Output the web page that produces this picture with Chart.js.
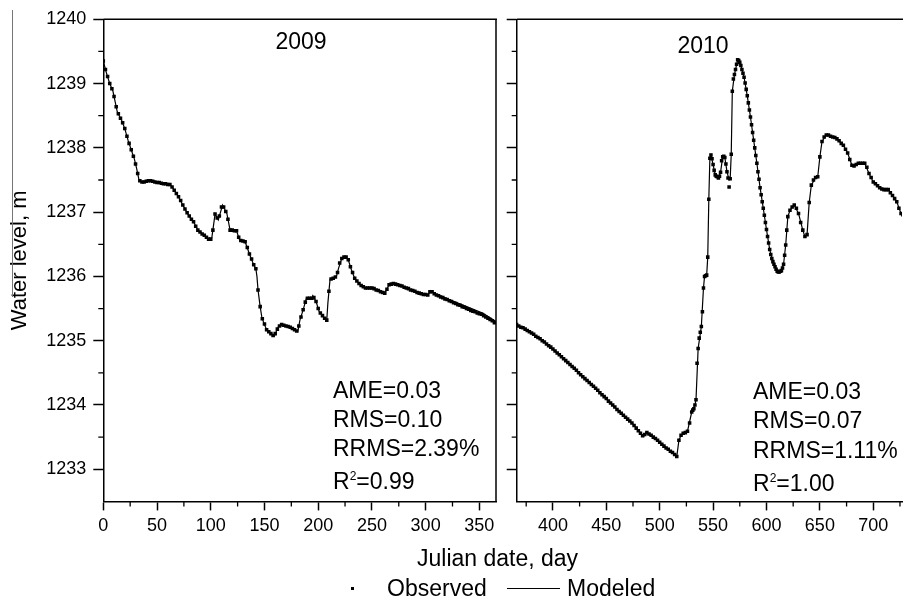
<!DOCTYPE html>
<html><head><meta charset="utf-8">
<script src="https://cdn.jsdelivr.net/npm/chart.js@4/dist/chart.umd.min.js"></script>
<style>
html,body{margin:0;padding:0;background:#fff;overflow:hidden;width:906px;height:602px;}
body{position:relative;font-family:"Liberation Sans",Arial,sans-serif;color:#000;}
.abs{position:absolute;white-space:nowrap;}
.t23{font-size:23px;line-height:23px;}
sup{font-size:12px;vertical-align:9px;line-height:0;}
</style></head><body>
<canvas id="c1" width="500" height="602" style="position:absolute;left:0;top:0"></canvas>
<canvas id="c2" width="406" height="602" style="position:absolute;left:500px;top:0"></canvas>
<div class="abs" style="left:12px;top:10px;width:0;height:287px;border-left:1px solid #777"></div>
<div class="abs t23" style="left:301px;top:30px;transform:translateX(-50%)">2009</div>
<div class="abs t23" style="left:703px;top:34px;transform:translateX(-50%)">2010</div>
<div class="abs t23" style="left:333px;top:379px">AME=0.03</div>
<div class="abs t23" style="left:333px;top:408px">RMS=0.10</div>
<div class="abs t23" style="left:333px;top:437px">RRMS=2.39%</div>
<div class="abs t23" style="left:333px;top:470px">R<sup>2</sup>=0.99</div>
<div class="abs t23" style="left:753px;top:380px">AME=0.03</div>
<div class="abs t23" style="left:753px;top:409px">RMS=0.07</div>
<div class="abs t23" style="left:753px;top:439px">RRMS=1.11%</div>
<div class="abs t23" style="left:753px;top:472px">R<sup>2</sup>=1.00</div>
<div class="abs t23" style="left:417px;top:547px">Julian date, day</div>
<div class="abs" style="left:351px;top:587px;width:3px;height:3px;background:#000"></div>
<div class="abs t23" style="left:387px;top:577px">Observed</div>
<div class="abs" style="left:507px;top:588px;width:53px;height:0;border-top:1px solid #000"></div>
<div class="abs t23" style="left:567px;top:577px">Modeled</div>
<script>
// ---------- data ----------
const yTicks = [1233,1234,1235,1236,1237,1238,1239,1240];
const yMinorTicks = [1233.5,1234.5,1235.5,1236.5,1237.5,1238.5,1239.5];
const xTicks2009 = [0,50,100,150,200,250,300,350];
const xMinor2009 = [25,75,125,175,225,275,325];
const xTicks2010 = [400,450,500,550,600,650,700];
const xMinor2010 = [375,425,475,525,575,625,675,725];

const obs2009Days = [0,2,4,6,8,10,12,14,16,18,20,22,24,26,28,30,32,34,36,38,40,42,44,46,48,50,52,54,56,58,60,62,64,66,68,70,72,74,76,78,80,82,84,86,88,90,92,94,96,98,100,102,104,106,108,110,112,114,116,118,120,122,124,126,128,130,132,134,136,138,140,142,144,146,148,150,152,154,156,158,160,162,164,166,168,170,172,174,176,178,180,182,184,186,188,190,192,194,196,198,200,202,204,206,208,210,212,214,216,218,220,222,224,226,228,230,232,234,236,238,240,242,244,246,248,250,252,254,256,258,260,262,264,266,268,270,272,274,276,278,280,282,284,286,288,290,292,294,296,298,300,302,304,306,308,310,312,314,316,318,320,322,324,326,328,330,332,334,336,338,340,342,344,346,348,350,352,354,356,358,360,362,364];
const obs2009Level = [1239.35,1239.22,1239.11,1239.00,1238.92,1238.80,1238.64,1238.53,1238.46,1238.39,1238.30,1238.18,1238.07,1237.97,1237.87,1237.75,1237.60,1237.49,1237.47,1237.47,1237.48,1237.49,1237.49,1237.48,1237.47,1237.46,1237.46,1237.45,1237.44,1237.44,1237.43,1237.43,1237.39,1237.34,1237.29,1237.24,1237.18,1237.11,1237.05,1236.99,1236.94,1236.89,1236.85,1236.78,1236.72,1236.69,1236.66,1236.64,1236.61,1236.58,1236.58,1236.72,1236.97,1236.91,1236.94,1237.08,1237.08,1237.01,1236.89,1236.72,1236.72,1236.71,1236.71,1236.61,1236.56,1236.55,1236.54,1236.45,1236.35,1236.27,1236.18,1236.12,1235.79,1235.53,1235.34,1235.26,1235.17,1235.14,1235.11,1235.08,1235.11,1235.18,1235.23,1235.25,1235.24,1235.23,1235.22,1235.21,1235.19,1235.17,1235.15,1235.23,1235.37,1235.48,1235.60,1235.66,1235.66,1235.66,1235.67,1235.61,1235.50,1235.43,1235.39,1235.35,1235.32,1235.77,1235.96,1235.97,1235.99,1236.06,1236.21,1236.28,1236.30,1236.30,1236.26,1236.15,1236.06,1235.97,1235.93,1235.89,1235.86,1235.84,1235.82,1235.82,1235.82,1235.82,1235.81,1235.79,1235.78,1235.76,1235.75,1235.74,1235.80,1235.87,1235.88,1235.89,1235.88,1235.87,1235.86,1235.85,1235.83,1235.82,1235.81,1235.79,1235.78,1235.77,1235.75,1235.74,1235.73,1235.72,1235.72,1235.71,1235.76,1235.76,1235.73,1235.71,1235.70,1235.68,1235.67,1235.65,1235.64,1235.62,1235.61,1235.59,1235.58,1235.56,1235.55,1235.53,1235.52,1235.50,1235.49,1235.47,1235.46,1235.45,1235.43,1235.42,1235.41,1235.39,1235.37,1235.35,1235.33,1235.31,1235.28];

const mod2009Days = [0,3,6,9,11,13,17,20,23,26,29,31,33,35,43,51,57,62,65,70,74,79,84,88,93,99,101,104,107,111,115,118,124,127,132,136,140,142,143,144,146,147.5,149.5,152,155,159,163,166,173,177,181,183,186,189,194,195,198,201,205,208,209,211,214,217,219,222,225,228,231,234,239,244,250,257,262,266,271,282,294,302,305,310,325,341,353,365.5];
const mod2009Level = [1239.35,1239.16,1239.00,1238.88,1238.72,1238.56,1238.43,1238.30,1238.12,1237.97,1237.82,1237.68,1237.52,1237.47,1237.49,1237.46,1237.44,1237.43,1237.37,1237.24,1237.11,1236.96,1236.85,1236.72,1236.65,1236.57,1236.60,1236.97,1236.88,1237.11,1236.98,1236.72,1236.71,1236.56,1236.54,1236.35,1236.18,1236.12,1236.00,1235.79,1235.53,1235.37,1235.27,1235.17,1235.12,1235.07,1235.22,1235.25,1235.22,1235.18,1235.14,1235.32,1235.48,1235.66,1235.66,1235.70,1235.61,1235.45,1235.37,1235.32,1235.58,1235.95,1235.97,1236.00,1236.13,1236.28,1236.31,1236.26,1236.10,1235.97,1235.87,1235.82,1235.82,1235.77,1235.74,1235.87,1235.89,1235.82,1235.74,1235.71,1235.78,1235.72,1235.62,1235.51,1235.43,1235.30];

const obs2010Days = [366,368,370,372,374,376,378,380,382,384,386,388,390,392,394,396,398,400,402,404,406,408,410,412,414,416,418,420,422,424,426,428,430,432,434,436,438,440,442,444,446,448,450,452,454,456,458,460,462,464,466,468,470,472,474,476,478,480,482,484,486,488,490,492,494,496,498,500,502,504,506,508,510,512,514,516,518,520,522,524,526,528,530,531,532,533,534,535,536,537,538,539,540,541,542,543,544,545,546,547,548,549,550,551,552,553,554,555,556,557,558,559,560,561,562,563,564,565,566,567,568,569,570,571,572,573,574,575,576,577,578,579,580,581,582,583,584,585,586,587,588,589,590,591,592,593,594,595,596,597,598,599,600,601,602,603,604,605,606,607,608,609,610,611,612,613,614,615,616,617,618,619,620,622,624,626,628,630,632,634,636,638,640,642,644,646,648,650,652,654,656,658,660,662,664,666,668,670,672,674,676,678,680,682,684,686,688,690,692,694,696,698,700,702,704,706,708,710,712,714,716,718,720,722,724,726];
const obs2010Level = [1235.25,1235.23,1235.21,1235.20,1235.18,1235.16,1235.14,1235.12,1235.10,1235.07,1235.05,1235.03,1235.00,1234.98,1234.95,1234.92,1234.90,1234.87,1234.84,1234.81,1234.78,1234.75,1234.72,1234.69,1234.66,1234.63,1234.60,1234.57,1234.54,1234.50,1234.47,1234.44,1234.41,1234.38,1234.35,1234.32,1234.29,1234.26,1234.23,1234.19,1234.16,1234.13,1234.10,1234.06,1234.03,1234.00,1233.97,1233.93,1233.90,1233.87,1233.84,1233.81,1233.78,1233.75,1233.72,1233.68,1233.64,1233.60,1233.56,1233.52,1233.54,1233.57,1233.55,1233.53,1233.50,1233.48,1233.45,1233.42,1233.39,1233.36,1233.33,1233.31,1233.28,1233.26,1233.23,1233.20,1233.45,1233.53,1233.56,1233.57,1233.59,1233.72,1233.89,1233.92,1233.94,1234.00,1234.08,1234.65,1234.88,1235.04,1235.13,1235.22,1235.45,1235.82,1236.00,1236.01,1236.02,1236.30,1237.20,1237.84,1237.89,1237.83,1237.74,1237.65,1237.58,1237.56,1237.55,1237.53,1237.56,1237.62,1237.80,1237.86,1237.87,1237.85,1237.75,1237.63,1237.53,1237.39,1237.52,1237.90,1238.88,1239.07,1239.14,1239.22,1239.30,1239.37,1239.36,1239.33,1239.28,1239.22,1239.16,1239.10,1239.01,1238.91,1238.81,1238.70,1238.59,1238.48,1238.36,1238.24,1238.12,1238.00,1237.88,1237.76,1237.63,1237.51,1237.38,1237.27,1237.16,1237.06,1236.95,1236.84,1236.73,1236.62,1236.52,1236.42,1236.34,1236.28,1236.23,1236.19,1236.15,1236.11,1236.08,1236.07,1236.07,1236.08,1236.09,1236.13,1236.19,1236.33,1236.49,1236.72,1236.93,1237.03,1237.08,1237.11,1237.06,1236.98,1236.84,1236.72,1236.62,1236.65,1237.15,1237.42,1237.50,1237.54,1237.55,1237.86,1238.10,1238.17,1238.20,1238.20,1238.18,1238.17,1238.16,1238.14,1238.11,1238.07,1238.04,1237.98,1237.92,1237.82,1237.73,1237.72,1237.74,1237.76,1237.76,1237.76,1237.76,1237.70,1237.60,1237.54,1237.47,1237.44,1237.41,1237.38,1237.36,1237.35,1237.35,1237.35,1237.30,1237.26,1237.21,1237.16,1237.06,1236.98];

const mod2010Days = [366,375,391,406,425,443,459,474,485,487,496,505,513,516,518,520,526,530,533,534,536,539,541,542,544,545,546,547,548,550,552,555,557,559,561,563,565,566,567,568,570,573,576,579,582,585,588,591,594,597,600,603,606,609,612,614,616,618,620,622,626,630,634,636,638,640,642,646,648,650,652,656,660,666,672,676,680,686,692,696,700,706,712,714,718,722,727];
const mod2010Level = [1235.25,1235.17,1234.99,1234.78,1234.49,1234.21,1233.95,1233.72,1233.51,1233.57,1233.48,1233.35,1233.25,1233.20,1233.45,1233.53,1233.59,1233.89,1234.00,1234.08,1234.88,1235.22,1235.82,1236.00,1236.02,1236.30,1237.20,1237.84,1237.89,1237.74,1237.58,1237.53,1237.62,1237.86,1237.85,1237.63,1237.50,1237.52,1237.90,1238.88,1239.14,1239.37,1239.28,1239.10,1238.81,1238.48,1238.12,1237.76,1237.38,1237.06,1236.73,1236.42,1236.23,1236.11,1236.07,1236.09,1236.19,1236.49,1236.93,1237.03,1237.11,1236.98,1236.72,1236.62,1236.65,1237.15,1237.42,1237.54,1237.55,1237.86,1238.10,1238.20,1238.18,1238.14,1238.04,1237.92,1237.73,1237.76,1237.76,1237.60,1237.47,1237.38,1237.35,1237.35,1237.26,1237.16,1236.93];

// ---------- chart setup ----------
const FONT = '"Liberation Sans", Arial, sans-serif';
const pts = (d, v) => d.map((x, i) => ({x, y: v[i]}));

const frameMinor = {
  id: 'frameMinor',
  afterDraw(chart, args, opts) {
    const {ctx, chartArea: a, scales} = chart;
    ctx.save();
    ctx.strokeStyle = '#000';
    ctx.lineWidth = 1.5;
    ctx.beginPath();
    ctx.moveTo(a.left, a.top); ctx.lineTo(a.right + 1, a.top);
    if (opts.right) { ctx.moveTo(a.right, a.top); ctx.lineTo(a.right, a.bottom); }
    ctx.stroke();
    ctx.lineWidth = 1.3;
    ctx.beginPath();
    (opts.xMinor || []).forEach(v => {
      const px = scales.x.getPixelForValue(v);
      ctx.moveTo(px, a.bottom); ctx.lineTo(px, a.bottom + 5);
    });
    (opts.yMinor || []).forEach(v => {
      const py = scales.y.getPixelForValue(v);
      ctx.moveTo(a.left, py); ctx.lineTo(a.left - 5, py);
    });
    ctx.stroke();
    ctx.restore();
  }
};

function makeChart(id, cfg) {
  return new Chart(document.getElementById(id), {
    type: 'scatter',
    data: {
      datasets: [
        {label: 'Modeled', data: pts(cfg.modDays, cfg.modLevel), showLine: true, borderColor: '#000', borderWidth: 1.2, pointRadius: 0, tension: 0, fill: false},
        {label: 'Observed', data: pts(cfg.obsDays, cfg.obsLevel), showLine: false, pointStyle: 'rect', pointRadius: 2.5, backgroundColor: '#000', borderWidth: 0}
      ]
    },
    options: {
      responsive: false,
      devicePixelRatio: 1,
      animation: false,
      layout: {padding: cfg.padding},
      plugins: {
        legend: {display: false},
        tooltip: {enabled: false},
        frameMinor: {right: cfg.right, xMinor: cfg.xMinor, yMinor: yMinorTicks}
      },
      scales: {
        x: {
          type: 'linear', min: cfg.xMin, max: cfg.xMax,
          afterBuildTicks: s => { s.ticks = cfg.xTicks.map(v => ({value: v})); },
          afterFit: s => { s.height = 36; },
          border: {display: true, color: '#000', width: 1.5},
          grid: {drawOnChartArea: false, drawTicks: true, tickLength: 9, tickColor: '#000', tickWidth: 1.5},
          ticks: {color: '#000', font: {family: FONT, size: 18}, padding: 5, maxRotation: 0, autoSkip: false}
        },
        y: {
          type: 'linear', min: 1232.5, max: 1240,
          afterBuildTicks: s => { s.ticks = yTicks.map(v => ({value: v})); },
          afterFit: s => { s.width = cfg.yWidth; },
          border: {display: true, color: '#000', width: 1.5},
          grid: {drawOnChartArea: false, drawTicks: true, tickLength: 10, tickColor: '#000', tickWidth: 1.5},
          ticks: {color: '#000', font: {family: FONT, size: 18}, padding: 7, autoSkip: false,
                  callback: v => cfg.yLabels ? String(v) : ''},
          title: {display: cfg.yLabels, text: 'Water level, m', color: '#000', font: {family: FONT, size: 22}, padding: {top: 7, bottom: 0}}
        }
      }
    },
    plugins: [frameMinor]
  });
}

makeChart('c1', {
  obsDays: obs2009Days, obsLevel: obs2009Level, modDays: mod2009Days, modLevel: mod2009Level,
  xMin: 0, xMax: 365.5, xTicks: xTicks2009, xMinor: xMinor2009,
  padding: {top: 19.3, right: 3.3, bottom: 64.6, left: 0}, yWidth: 103.3, yLabels: true, right: true
});
makeChart('c2', {
  obsDays: obs2010Days, obsLevel: obs2010Level, modDays: mod2010Days, modLevel: mod2010Level,
  xMin: 366.1, xMax: 726.9, xTicks: xTicks2010, xMinor: xMinor2010,
  padding: {top: 19.3, right: 0, bottom: 64.6, left: 0}, yWidth: 16.7, yLabels: false, right: false
});
</script>
</body></html>
